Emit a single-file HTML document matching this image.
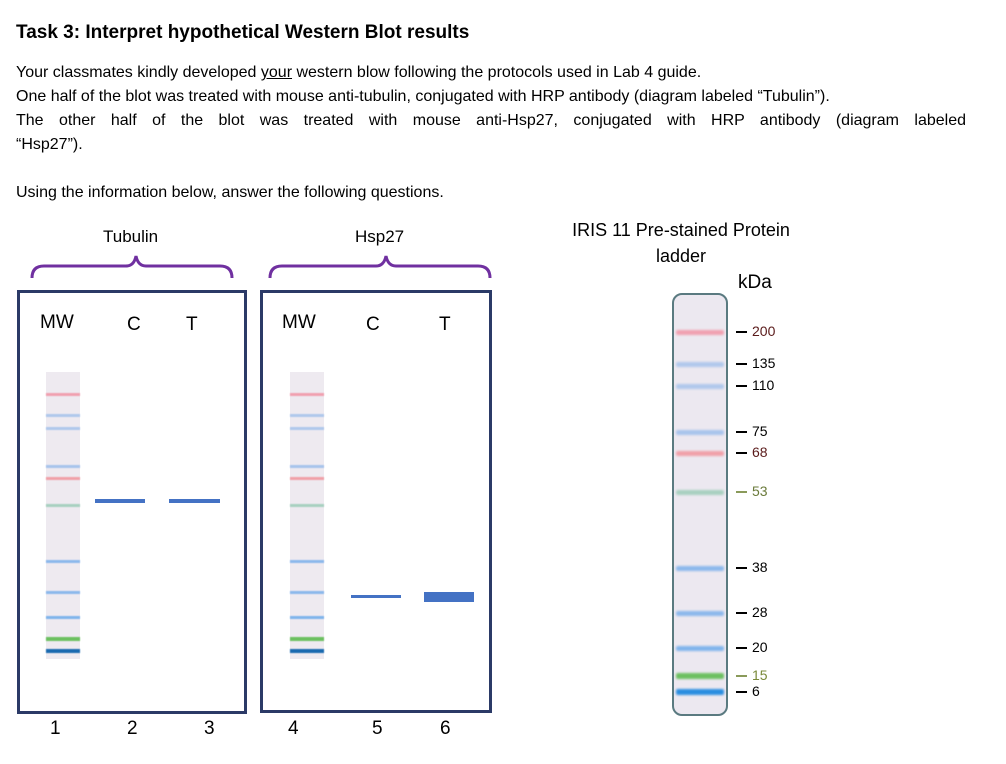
<!DOCTYPE html>
<html><head><meta charset="utf-8"><style>
body{margin:0;width:1006px;height:764px;background:#fff;position:relative;overflow:hidden;font-family:"Liberation Sans",sans-serif;color:#000}
.t{position:absolute;white-space:nowrap}
.l{position:absolute;font-size:16px;left:16px}
.box{position:absolute;border:3px solid #2b3a67;box-sizing:border-box}
.strip{position:absolute;background:#eeeaf0}
.b{position:absolute;height:3px}
</style></head><body>
<div class="t" style="left:16px;top:22px;font-size:19px;font-weight:bold">Task 3: Interpret hypothetical Western Blot results</div>
<div class="l t" style="top:64px">Your classmates kindly developed <u>your</u> western blow following the protocols used in Lab 4 guide.</div>
<div class="l t" style="top:88px">One half of the blot was treated with mouse anti-tubulin, conjugated with HRP antibody (diagram labeled “Tubulin”).</div>
<div class="l" style="top:112px;width:950px;text-align:justify;text-align-last:justify">The other half of the blot was treated with mouse anti-Hsp27, conjugated with HRP antibody (diagram labeled</div>
<div class="l t" style="top:136px">“Hsp27”).</div>
<div class="l t" style="top:184px">Using the information below, answer the following questions.</div>

<div class="t" style="left:103px;top:227px;font-size:17px">Tubulin</div>
<div class="t" style="left:355px;top:227px;font-size:17px">Hsp27</div>
<svg style="position:absolute;left:0;top:0" width="1006" height="300">
<path d="M32,278 Q32,266 44,266 L126,266 Q134,266 136,256 Q138,266 146,266 L220,266 Q232,266 232,278" fill="none" stroke="#7030a0" stroke-width="3"/>
<path d="M270,278 Q270,266 282,266 L376,266 Q384,266 386,256 Q388,266 396,266 L478,266 Q490,266 490,278" fill="none" stroke="#7030a0" stroke-width="3"/>
</svg>

<div class="box" style="left:17px;top:290px;width:230px;height:424px"></div>
<div class="box" style="left:260px;top:290px;width:232px;height:423px"></div>

<div class="t" style="left:40px;top:312px;font-size:19px">MW</div>
<div class="t" style="left:127px;top:314px;font-size:19px">C</div>
<div class="t" style="left:186px;top:314px;font-size:19px">T</div>
<div class="t" style="left:282px;top:312px;font-size:19px">MW</div>
<div class="t" style="left:366px;top:314px;font-size:19px">C</div>
<div class="t" style="left:439px;top:314px;font-size:19px">T</div>

<div id="mw1" class="strip" style="left:46px;top:372px;width:34px;height:287px"></div>
<div id="mw2" class="strip" style="left:290px;top:372px;width:34px;height:287px"></div>

<div class="b" style="left:95px;top:499px;width:50px;height:4px;background:#4472c4"></div>
<div class="b" style="left:169px;top:499px;width:51px;height:4px;background:#4472c4"></div>
<div class="b" style="left:351px;top:595px;width:50px;height:3px;background:#4472c4"></div>
<div class="b" style="left:424px;top:592px;width:50px;height:10px;background:#4472c4"></div>

<div class="t" style="left:50px;top:718px;font-size:19px">1</div>
<div class="t" style="left:127px;top:718px;font-size:19px">2</div>
<div class="t" style="left:204px;top:718px;font-size:19px">3</div>
<div class="t" style="left:288px;top:718px;font-size:19px">4</div>
<div class="t" style="left:372px;top:718px;font-size:19px">5</div>
<div class="t" style="left:440px;top:718px;font-size:19px">6</div>

<div class="t" style="left:556px;top:217px;font-size:18px;text-align:center;width:250px;line-height:26px;white-space:normal">IRIS 11 Pre-stained Protein<br>ladder</div>
<div class="t" style="left:738px;top:272px;font-size:19px">kDa</div>
<div id="ladder" style="position:absolute;left:672px;top:293px;width:56px;height:423px;border:2px solid #5a7a80;border-radius:10px;box-sizing:border-box;background:#ece8f0"></div>

<script>
const sizes=["200","135","110","75","68","53","38","28","20","15","6"];
const bandY=[332,364,386,432,453,492,568,613,648,676,692];
const bandColor=["#f0a0b0","#b0c8ec","#b0c8ec","#a8c4ec","#f0a0a8","#a8d0c0","#8cb8ec","#8cb8ec","#80b4ec","#6cc060","#2a8ee0"];
const labelColor=["#5a1a1a","#000","#000","#000","#5a1a1a","#6a7a3a","#000","#000","#000","#7a8a3a","#000"];
const mwY=[394,415,428,466,478,505,561,592,617,638,650];
sizes.forEach((s,i)=>{
  const b=document.createElement('div');
  
  
  const h=i>=9?6:5;
  b.style.cssText=`position:absolute;left:676px;top:${bandY[i]-h/2}px;width:48px;height:${h}px;background:${bandColor[i]};border-radius:2px;filter:blur(1px)`;
  document.body.appendChild(b);
  const t=document.createElement('div');
  
  
  t.style.cssText=`position:absolute;left:736px;top:${bandY[i]-1}px;width:11px;height:2px;background:${i==5||i==9?'#8a9a5a':'#000'}`;
  document.body.appendChild(t);
  const l=document.createElement('div');
  
  
  l.style.cssText=`position:absolute;left:752px;top:${bandY[i]-9}px;font-size:14px;color:${labelColor[i]}`;
  l.textContent=s;
  document.body.appendChild(l);
});
[46,290].forEach((x,k)=>{
  mwY.forEach((y,i)=>{
    const b=document.createElement('div');
    
    
    const h=i>=9?4:3;
    b.style.cssText=`position:absolute;left:${x}px;top:${y-1}px;width:34px;height:${h}px;background:${i==10?'#1a6ab0':bandColor[i]};filter:blur(0.6px)`;
    document.body.appendChild(b);
  });
});
</script>
</body></html>
